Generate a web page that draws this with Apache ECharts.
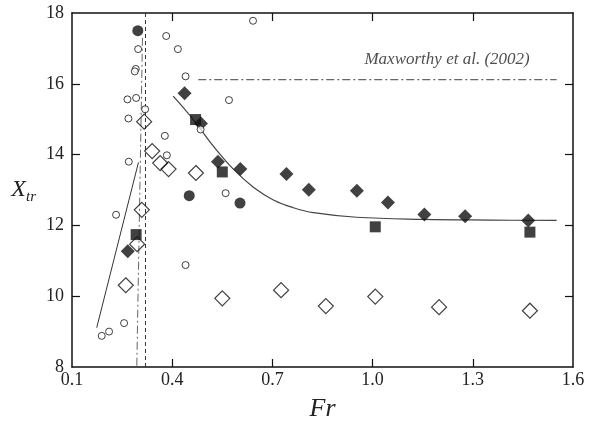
<!DOCTYPE html>
<html><head><meta charset="utf-8">
<script src="https://cdn.jsdelivr.net/npm/echarts@6/dist/echarts.min.js"></script>
<style>html,body{margin:0;padding:0;background:#fff}#c{width:601px;height:427px}</style>
</head><body><div id="c"></div>
<script>
// ---- data ----
var xTicks = [0.1, 0.4, 0.7, 1.0, 1.3, 1.6];
var yTicks = [8, 10, 12, 14, 16, 18];
var openCircles = [[0.382,17.35],[0.642,17.78],[0.298,16.98],[0.417,16.98],[0.291,16.42],[0.288,16.35],[0.440,16.21],[0.570,15.54],[0.266,15.56],[0.292,15.60],[0.319,15.28],[0.269,15.02],[0.485,14.71],[0.378,14.53],[0.384,13.98],[0.270,13.80],[0.560,12.91],[0.232,12.30],[0.440,10.88],[0.256,9.24],[0.189,8.88],[0.211,9.00]];
var filledCircles = [[0.297,17.50],[0.451,12.84],[0.603,12.63]];
var filledDiamonds = [[0.437,15.73],[0.486,14.88],[0.537,13.80],[0.604,13.59],[0.742,13.45],[0.809,13.01],[0.953,12.98],[1.046,12.65],[1.155,12.31],[1.277,12.26],[1.466,12.14],[0.267,11.27]];
var filledSquares = [[0.470,14.99],[0.550,13.51],[1.008,11.96],[1.471,11.81],[0.292,11.74]];
var openDiamonds = [[0.316,14.93],[0.340,14.10],[0.364,13.76],[0.389,13.59],[0.471,13.48],[0.309,12.44],[0.295,11.47],[0.261,10.31],[0.550,9.94],[0.726,10.17],[0.860,9.72],[1.008,9.99],[1.199,9.69],[1.471,9.59]];
var fitCurve = [[0.403,15.65],[0.463,14.99],[0.523,14.24],[0.583,13.59],[0.643,13.08],[0.703,12.72],[0.763,12.50],[0.823,12.36],[0.952,12.23],[1.152,12.17],[1.352,12.15],[1.551,12.14]];
var leftLine = [[0.174,9.11],[0.299,13.78]];
var dashedVertical = [[0.320,8],[0.320,18]];
var dashDotVertical = [[0.311,17.3],[0.294,8]];
var maxworthyLine = [[0.478,16.12],[1.551,16.12]];
var annotation = {text: 'Maxworthy et al. (2002)', at: [1.223,16.68]};

var serif = 'Liberation Serif';
var ink = '#111';
var chart = echarts.init(document.getElementById('c'));
function axisCommon(pos, showLabels, tickVals, labelVals) {
  return {
    type: 'value', position: pos,
    axisLine: {show: true, onZero: false, lineStyle: {color: ink, width: 1.5}},
    axisTick: {show: true, inside: true, length: 8, lineStyle: {color: ink, width: 1.2}, customValues: tickVals},
    axisLabel: {show: showLabels, customValues: labelVals, fontFamily: serif, fontSize: 18, color: '#222'},
    splitLine: {show: false}
  };
}
var xInner = xTicks.slice(1, -1);
var yInner = yTicks.slice(1, -1);
var xb = axisCommon('bottom', true, xInner, xTicks);
xb.min = 0.1; xb.max = 1.6;
xb.axisLabel.formatter = function(v){return v.toFixed(1);};
xb.axisLabel.margin = 4;
xb.name = 'Fr'; xb.nameLocation = 'middle'; xb.nameGap = 29;
xb.nameTextStyle = {fontFamily: serif, fontStyle: 'italic', fontSize: 26, color: '#222'};
var xt = axisCommon('top', false, xInner, xTicks);
xt.min = 0.1; xt.max = 1.6;
var yl = axisCommon('left', true, yInner, yTicks);
yl.min = 8; yl.max = 18; yl.interval = 2;
yl.axisLabel.margin = 8;
yl.name = '{x|X}{s|tr}'; yl.nameLocation = 'middle'; yl.nameRotate = 0; yl.nameGap = 36;
yl.nameTextStyle = {rich: {
  x: {fontFamily: serif, fontStyle: 'italic', fontSize: 24, color: '#222'},
  s: {fontFamily: serif, fontStyle: 'italic', fontSize: 15, color: '#222', padding: [14,0,0,0]}
}};
var yr = axisCommon('right', false, yInner, yTicks);
yr.min = 8; yr.max = 18; yr.interval = 2;

function lineSeries(data, type, color, width) {
  return {type: 'line', data: data, symbol: 'none', silent: true, z: 1,
    lineStyle: {color: color, width: width, type: type}};
}
var dashDot = [8, 3, 2, 3];
chart.setOption({
  animation: false,
  grid: {left: 72, right: 28, top: 13, bottom: 58},
  xAxis: [xb, xt],
  yAxis: [yl, yr],
  series: [
    lineSeries(leftLine, 'solid', '#333', 1),
    lineSeries(dashedVertical, [4, 3], '#333', 1),
    lineSeries(dashDotVertical, dashDot, '#666', 1),
    lineSeries(maxworthyLine, dashDot, '#666', 1.2),
    Object.assign(lineSeries(fitCurve, 'solid', '#444', 1.2), {smooth: 0.4}),
    {type: 'scatter', data: openDiamonds, symbol: 'diamond', symbolSize: 15, z: 3,
      itemStyle: {color: 'rgba(255,255,255,0)', borderColor: ink, borderWidth: 1.2}},
    {type: 'scatter', data: filledSquares, symbol: 'rect', symbolSize: 11, z: 4,
      itemStyle: {color: ink}},
    {type: 'scatter', data: filledDiamonds, symbol: 'diamond', symbolSize: 14, z: 4,
      itemStyle: {color: ink}},
    {type: 'scatter', data: filledCircles, symbol: 'circle', symbolSize: 11, z: 4,
      itemStyle: {color: ink}},
    {type: 'scatter', data: openCircles, symbol: 'circle', symbolSize: 7, z: 5,
      itemStyle: {color: '#fff', borderColor: ink, borderWidth: 1}},
    {type: 'scatter', data: [annotation.at], symbolSize: 0, z: 6, silent: true,
      label: {show: true, position: 'inside', formatter: annotation.text,
        fontFamily: serif, fontStyle: 'italic', fontSize: 17, color: '#222'}}
  ]
});
</script></body></html>
